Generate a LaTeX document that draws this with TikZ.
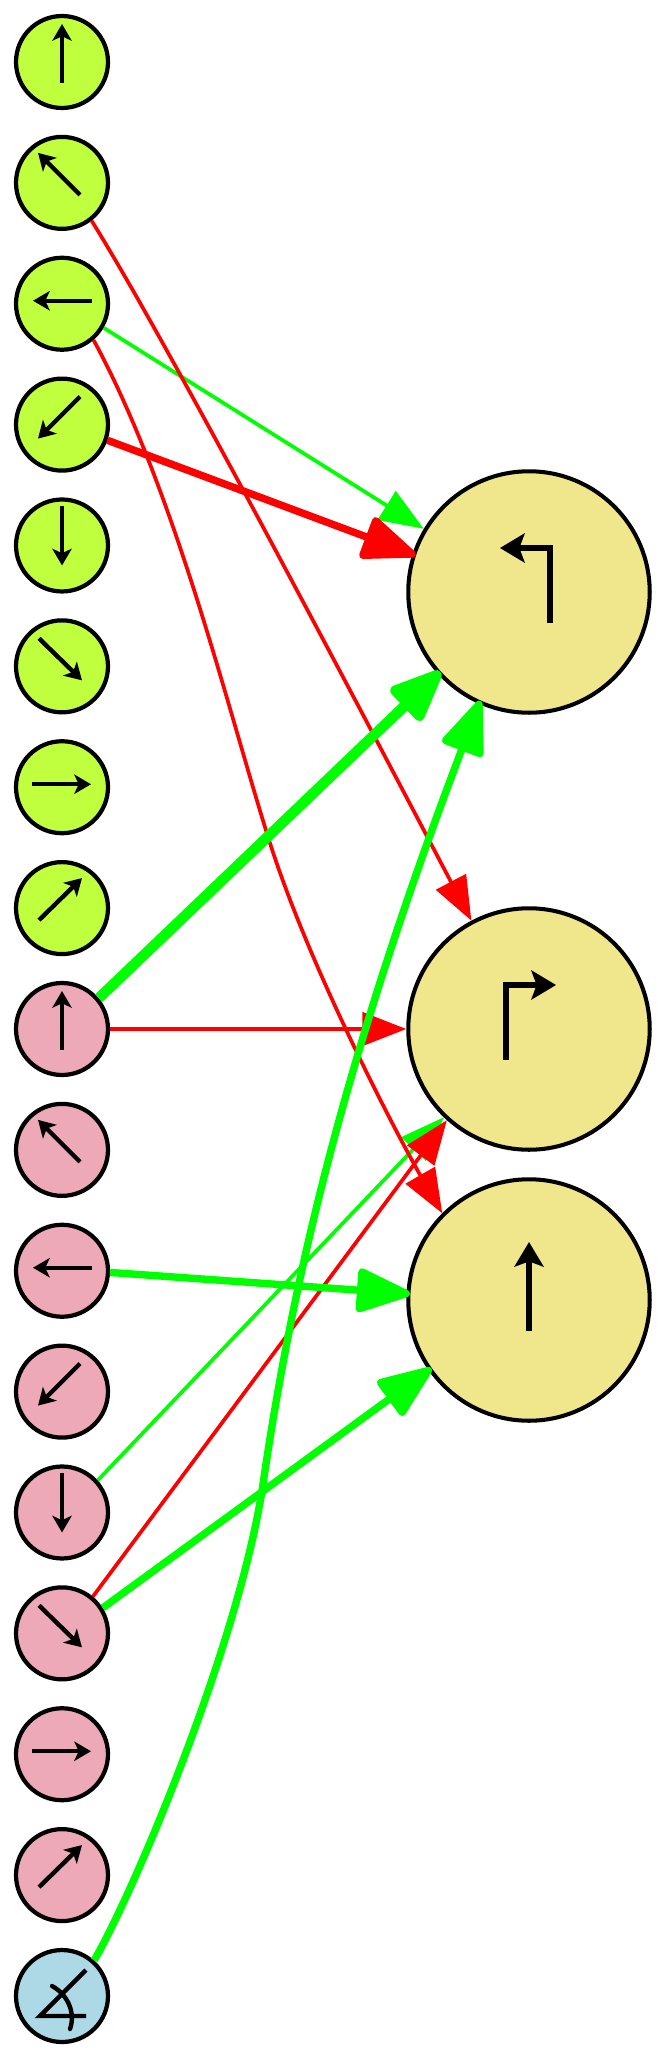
\documentclass[tikz,border=0pt]{standalone}
\usepackage{tikz}
\usetikzlibrary{arrows.meta}
\definecolor{limefill}{HTML}{C0FF3E}
\definecolor{pinkfill}{HTML}{EEA9B8}
\definecolor{bluefill}{HTML}{ADD8E6}
\definecolor{khakifill}{HTML}{F0E68C}
\definecolor{edgered}{RGB}{255, 0, 0}
\definecolor{edgegreen}{RGB}{0, 255, 0}

\begin{document}
\begin{tikzpicture}[x=0.02cm, y=-0.02cm,
        small/.style={circle, draw=black, line width=2.4pt, minimum size=1.84cm, inner sep=0pt},
        big/.style={circle, draw=black, line width=2.3pt, fill=khakifill, minimum size=4.83cm, inner sep=0pt},
        glyph/.style={line width=2.5pt, -{Stealth[length=9.5pt, width=11pt, inset=2.5pt]}},
        bigglyph/.style={line width=3.6pt, -{Stealth[length=14pt, width=16.5pt, inset=3pt]}},
        thinedge/.style={line width=2.1pt, -{Triangle[length=25pt, width=19pt]}},
        midedge/.style={line width=4.2pt, shorten >=-2pt, -{Triangle[length=34pt, width=26pt, round]}},
        heavyedge/.style={line width=6pt, shorten >=-2pt, -{Triangle[length=34pt, width=27pt, round]}}]
    \useasboundingbox (0,0) rectangle (667,2058);
    \foreach \i in {1,...,8}
        \node[small, fill=limefill] (a\i) at (62, {62+120.87*(\i-1)}) {};
    \foreach \i in {1,...,8}
        \node[small, fill=pinkfill] (b\i) at (62, {1029+120.87*(\i-1)}) {};
    \node[small, fill=bluefill] (c) at (62, 1996) {};
    \node[big] (r1) at (529, 592) {};
    \node[big] (r2) at (529, 1029) {};
    \node[big] (r3) at (529, 1300) {};

    % compass arrows inside the small circles
    \foreach \n in {a, b}
        \foreach \i/\tx/\ty/\hx/\hy in {1/0/21/0/-38, 2/18/12/-24/-30, 3/30/-3/-29/-3, 4/18/-28/-24/14,
                                        5/0/-39/0/20, 6/-23/-28/20/14, 7/-30/-3/29/-3, 8/-23/12/20/-30}
            \draw[glyph] ([shift={(\tx,\ty)}]\n\i.center) -- ([shift={(\hx,\hy)}]\n\i.center);

    % angle sign
    \draw[line width=2.5pt] ([shift={(24,-26)}]c.center) -- ([shift={(-22,20)}]c.center) -- ([shift={(24,20)}]c.center);
    \draw[line width=2.5pt, line cap=round] ([shift={(-10,-10)}]c.center)
        .. controls ([shift={(5,-2)}]c.center) and ([shift={(14,16)}]c.center) .. ([shift={(8,33)}]c.center);

    % turn arrows inside the big circles
    \draw[bigglyph] ([shift={(21,31)}]r1.center) -- ([shift={(21,-44)}]r1.center) -- ([shift={(-29,-44)}]r1.center);
    \draw[bigglyph] ([shift={(-23,31)}]r2.center) -- ([shift={(-23,-44)}]r2.center) -- ([shift={(27,-44)}]r2.center);
    \draw[bigglyph] ([shift={(0,31)}]r3.center) -- ([shift={(0,-58)}]r3.center);

    \draw[thinedge, edgegreen] (a3.-30) -- (r1.149);
    \draw[thinedge, edgegreen] (b5.42) -- (r2.226);
    \draw[thinedge, edgered] (a2.-52) .. controls (170,346) and (370,728) .. (r2.118);
    \draw[thinedge, edgered] (a3.-49) .. controls (175,490) and (228,710) .. (269,840)
        .. controls (310,970) and (400,1140) .. (r3.135);
    \draw[thinedge, edgered] (b1.0) -- (r2.180);
    \draw[thinedge, edgered] (b6.50) -- (r2.228);
    \draw[midedge, edgered] (a4.-19) -- (r1.162);
    \draw[midedge, edgegreen] (b3.-2) -- (r3.177);
    \draw[midedge, edgegreen] (b6.32) -- (r3.215);
    \draw[midedge, edgegreen] (c.48) .. controls (135,1890) and (240,1640) .. (263,1484)
        .. controls (288,1314) and (332,1090) .. (r1.246);
    \draw[heavyedge, edgegreen] (b1.40) -- (r1.222);
\end{tikzpicture}
\end{document}
